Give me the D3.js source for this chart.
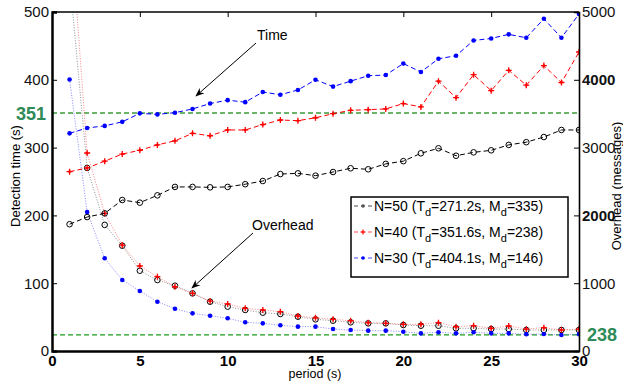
<!DOCTYPE html>
<html>
<head>
<meta charset="utf-8">
<script src="https://d3js.org/d3.v7.min.js"></script>
<style>
  body { margin: 0; background: #fff; }
  svg { display: block; font-family: "Liberation Sans", Arial, Helvetica, sans-serif; }
</style>
</head>
<body>
<svg id="chart" width="623" height="385"></svg>
<script>
// period (s)
const periods = [1,2,3,4,5,6,7,8,9,10,11,12,13,14,15,16,17,18,19,20,21,22,23,24,25,26,27,28,29,30];

// detection time (s), left axis
const time50 = [187,197.6,203,222.7,218.8,229.6,242,242,241.4,242,246,250.7,261,262,258.6,264,269.5,268,276,280,291.6,299,288,293,296,304,308,315.6,326,326];
const time40 = [264.5,270,280,290.5,296,304,310,321,317.5,326,326,334,340.7,339.7,344,350,355,356,357,365,360,398,373.6,407.5,384,414,392,421,396,441];
const time30 = [321,329,332,338,350.5,349,351.5,357,365,370,367,382,378,385,400,390,398,406,407,424,411.5,431,435.5,458,461,467,462,490,462,497];

// overhead (messages), right axis
const ovh50 = [5500,2700,1860,1553,1184,1047,963,850,727,654,605,565,546,506,467,447,423,408,408,383,373,373,335,335,324,324,310,310,310,310];
const ovh40 = [6500,2920,2030,1563,1254,1096,948,850,737,693,630,605,580,516,490,467,447,418,408,393,393,418,358,373,335,369,324,344,310,324];
const ovh30 = [4005,2050,1367,1047,885,727,624,555,520,482,423,408,379,359,359,324,310,300,300,285,260,276,260,276,260,260,246,250,236,246];

const xTicks = [0,5,10,15,20,25,30];
const leftTicks = [0,100,200,300,400,500];
const rightTicks = [0,1000,2000,3000,4000,5000];
const refTime = 351;
const refOvh = 238;

const legendItems = [
  { n: 50, td: "271.2", md: "335", color: "#000", marker: "circle" },
  { n: 40, td: "351.6", md: "238", color: "#f00", marker: "plus" },
  { n: 30, td: "404.1", md: "146", color: "#00f", marker: "dot" }
];

const svg = d3.select("#chart");
const mLeft = 52, mRight = 579, mTop = 12, mBottom = 351;

const x = d3.scaleLinear().domain([0, 30]).range([mLeft, mRight]);
const yL = d3.scaleLinear().domain([0, 500]).range([mBottom, mTop]);
const yR = d3.scaleLinear().domain([0, 5000]).range([mBottom, mTop]);

const defs = svg.append("defs");
defs.append("clipPath").attr("id", "plotClip")
  .append("rect").attr("x", mLeft).attr("y", mTop).attr("width", mRight - mLeft).attr("height", mBottom - mTop);

defs.append("marker")
  .attr("id", "arrow").attr("viewBox", "0 0 10 10")
  .attr("refX", 9).attr("refY", 5)
  .attr("markerWidth", 9).attr("markerHeight", 9)
  .attr("markerUnits", "userSpaceOnUse")
  .attr("orient", "auto")
  .append("path").attr("d", "M0,1 L10,5 L0,9 L3,5 Z").attr("fill", "#000");

const plot = svg.append("g").attr("clip-path", "url(#plotClip)");

// reference lines
plot.append("line").attr("x1", mLeft).attr("x2", mRight)
  .attr("y1", yL(refTime)).attr("y2", yL(refTime))
  .attr("stroke", "#3a9a3a").attr("stroke-width", 1.3).attr("stroke-dasharray", "5,3");
plot.append("line").attr("x1", mLeft).attr("x2", mRight)
  .attr("y1", yR(refOvh)).attr("y2", yR(refOvh))
  .attr("stroke", "#1a9a1a").attr("stroke-width", 1.3).attr("stroke-dasharray", "5,3");

function drawMarkers(g, data, yScale, type, color) {
  const pts = g.selectAll(null).data(data.map((v, i) => [periods[i], v])).enter();
  if (type === "circle") {
    pts.append("circle").attr("cx", d => x(d[0])).attr("cy", d => yScale(d[1]))
      .attr("r", 2.8).attr("fill", "none").attr("stroke", color).attr("stroke-width", 1);
  } else if (type === "plus") {
    pts.append("path")
      .attr("d", d => { const cx = x(d[0]), cy = yScale(d[1]);
        return `M${cx-3},${cy}H${cx+3}M${cx},${cy-3}V${cy+3}`; })
      .attr("stroke", color).attr("stroke-width", 1.3);
    pts.append("circle").attr("cx", d => x(d[0])).attr("cy", d => yScale(d[1]))
      .attr("r", 1.3).attr("fill", color);
  } else {
    pts.append("circle").attr("cx", d => x(d[0])).attr("cy", d => yScale(d[1]))
      .attr("r", 2.3).attr("fill", color);
  }
}

const series = [
  { t: time50, o: ovh50, color: "#000", ocolor: "#777", marker: "circle" },
  { t: time40, o: ovh40, color: "#f00", ocolor: "#f66", marker: "plus" },
  { t: time30, o: ovh30, color: "#00f", ocolor: "#66f", marker: "dot" }
];

// overhead (dotted)
series.forEach(s => {
  const line = d3.line().x((d, i) => x(periods[i])).y(d => yR(d));
  plot.append("path").datum(s.o).attr("d", line)
    .attr("fill", "none").attr("stroke", s.ocolor).attr("stroke-width", 1)
    .attr("stroke-dasharray", "1,1.6").attr("opacity", 0.8);
  drawMarkers(plot.append("g"), s.o, yR, s.marker, s.color);
});

// detection time (dashed)
series.forEach(s => {
  const line = d3.line().x((d, i) => x(periods[i])).y(d => yL(d));
  plot.append("path").datum(s.t).attr("d", line)
    .attr("fill", "none").attr("stroke", s.color).attr("stroke-width", 1)
    .attr("stroke-dasharray", "5,3");
  drawMarkers(plot.append("g"), s.t, yL, s.marker, s.color);
});

// frame
svg.append("line").attr("x1", mLeft).attr("x2", mRight).attr("y1", mTop).attr("y2", mTop)
  .attr("stroke", "#000").attr("stroke-width", 1.5);

// axes
const xAxisB = d3.axisBottom(x).tickValues(xTicks).tickSize(0).tickPadding(4).tickFormat(d3.format("d"));
const gxb = svg.append("g").attr("transform", `translate(0,${mBottom})`).call(xAxisB);
gxb.select(".domain").attr("stroke-width", 2.5);
gxb.selectAll("text").attr("font-size", 15).attr("font-weight", "bold").attr("fill", "#000")
  .attr("font-family", "Liberation Sans, Arial, sans-serif");

const xAxisT = d3.axisBottom(x).tickValues(xTicks.slice(1, -1)).tickSize(5).tickFormat("");
const gxt = svg.append("g").attr("transform", `translate(0,${mTop})`).call(xAxisT);
gxt.select(".domain").remove();

const yAxisL = d3.axisRight(yL).tickValues(leftTicks).tickSize(5).tickFormat("");
const gyl = svg.append("g").attr("transform", `translate(${mLeft},0)`).call(yAxisL);
gyl.select(".domain").attr("stroke-width", 2.5);
svg.append("g").selectAll("text").data(leftTicks).enter().append("text")
  .attr("x", mLeft - 3).attr("y", d => yL(d)).attr("dy", "0.36em")
  .attr("text-anchor", "end").attr("font-size", 15).attr("fill", "#111").text(d => d);

const yAxisR = d3.axisLeft(yR).tickValues(rightTicks).tickSize(5).tickFormat("");
const gyr = svg.append("g").attr("transform", `translate(${mRight},0)`).call(yAxisR);
gyr.select(".domain").attr("stroke-width", 1.6);
svg.append("g").selectAll("text").data(rightTicks).enter().append("text")
  .attr("x", mRight + 3).attr("y", d => yR(d)).attr("dy", "0.36em")
  .attr("font-size", 15).attr("fill", "#111")
  .attr("font-weight", d => (d === 2000 || d === 4000) ? "bold" : "normal")
  .text(d => d);

// axis titles
svg.append("text").attr("transform", `translate(20,176) rotate(-90)`)
  .attr("text-anchor", "middle").attr("font-size", 13).text("Detection time (s)");
svg.append("text").attr("transform", `translate(621,186) rotate(-90)`)
  .attr("text-anchor", "middle").attr("font-size", 13).text("Overhead (messages)");
svg.append("text").attr("x", 315).attr("y", 378)
  .attr("text-anchor", "middle").attr("font-size", 12.5).text("period (s)");

// reference labels
svg.append("text").attr("x", 16).attr("y", yL(refTime)).attr("dy", "0.36em")
  .attr("font-size", 18).attr("font-weight", "bold").attr("fill", "#2e8b57").text(refTime);
svg.append("text").attr("x", 587).attr("y", yR(refOvh)).attr("dy", "0.36em")
  .attr("font-size", 18).attr("font-weight", "bold").attr("fill", "#2e8b57").text(refOvh);

// annotations
svg.append("line").attr("x1", 256).attr("y1", 43).attr("x2", 196).attr("y2", 96)
  .attr("stroke", "#000").attr("stroke-width", 1).attr("marker-end", "url(#arrow)");
svg.append("text").attr("x", 257).attr("y", 40).attr("font-size", 14).text("Time");
svg.append("line").attr("x1", 253).attr("y1", 233).attr("x2", 192).attr("y2", 288)
  .attr("stroke", "#000").attr("stroke-width", 1).attr("marker-end", "url(#arrow)");
svg.append("text").attr("x", 252).attr("y", 230).attr("font-size", 14).text("Overhead");

// legend
const lg = svg.append("g");
lg.append("rect").attr("x", 351).attr("y", 197).attr("width", 217).attr("height", 80)
  .attr("fill", "#fff").attr("stroke", "#000").attr("stroke-width", 1.5);
legendItems.forEach((it, i) => {
  const cy = 206 + i * 26;
  lg.append("line").attr("x1", 354).attr("x2", 373).attr("y1", cy).attr("y2", cy)
    .attr("stroke", it.color).attr("stroke-width", 1).attr("stroke-dasharray", "4,3").attr("opacity", 0.7);
  if (it.marker === "circle") {
    lg.append("circle").attr("cx", 363).attr("cy", cy).attr("r", 1.8).attr("fill", "#555");
  } else if (it.marker === "plus") {
    lg.append("path").attr("d", `M360.5,${cy}H365.5M363,${cy-2.5}V${cy+2.5}`).attr("stroke", it.color).attr("stroke-width", 1.2);
  } else {
    lg.append("circle").attr("cx", 363).attr("cy", cy).attr("r", 1.8).attr("fill", it.color);
  }
  const t = lg.append("text").attr("x", 374).attr("y", cy + 5).attr("font-size", 14);
  t.append("tspan").text(`N=${it.n} (T`);
  t.append("tspan").attr("dy", 5).attr("font-size", 11).text("d");
  t.append("tspan").attr("dy", -5).text(`=${it.td}s, M`);
  t.append("tspan").attr("dy", 5).attr("font-size", 11).text("d");
  t.append("tspan").attr("dy", -5).text(`=${it.md})`);
});
</script>
</body>
</html>
